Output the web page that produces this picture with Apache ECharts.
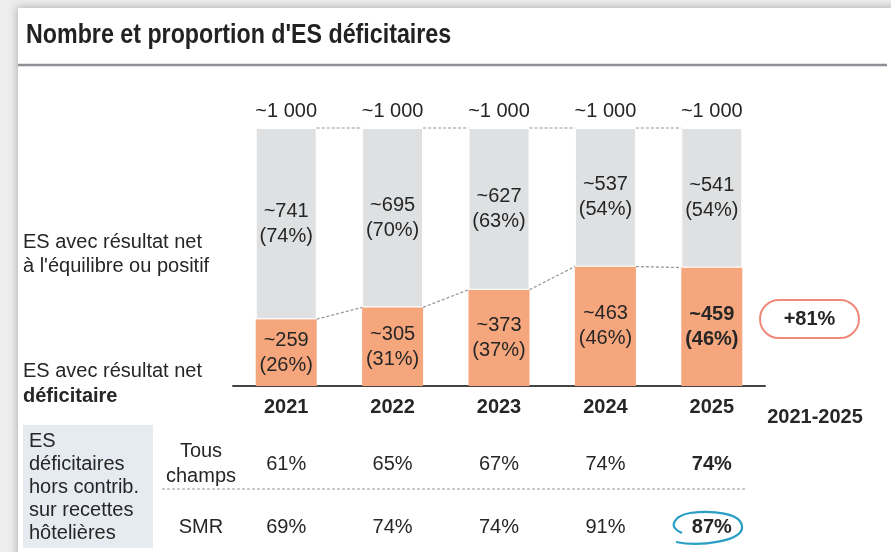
<!DOCTYPE html>
<html><head><meta charset="utf-8">
<script src="https://cdn.jsdelivr.net/npm/echarts@6/dist/echarts.min.js"></script>
<style>html,body{margin:0;padding:0;background:#ededed}#c{width:891px;height:552px}</style>
</head><body><div id="c"></div>
<script>
const years = ['2021','2022','2023','2024','2025'];
const deficit = [259, 305, 373, 463, 459];
const positive = [741, 695, 627, 537, 541];
const pctDeficit = [26, 31, 37, 46, 46];
const pctPositive = [74, 70, 63, 54, 54];
const totals = [1000, 1000, 1000, 1000, 1000];
const totalLabels = ['~1 000','~1 000','~1 000','~1 000','~1 000'];
const rowLabels = ['SMR', 'Tous\nchamps'];
const tousChamps = [61, 65, 67, 74, 74];
const smr = [69, 74, 74, 91, 87];
const growthLabel = '+81%';
const periodLabel = '2021-2025';

const FONT = "'Liberation Sans', Arial, sans-serif";
const TXT = '#262626';
const HALF = 30.5;

function connectors(vals) {
  const out = [];
  for (let i = 0; i < vals.length - 1; i++) out.push([i, vals[i], vals[i + 1]]);
  return out;
}
const cumTop = deficit.map((d, i) => d + positive[i]);

function connRender(color) {
  return function (params, api) {
    const i = api.value(0);
    const p1 = api.coord([i, api.value(1)]);
    const p2 = api.coord([i + 1, api.value(2)]);
    return {
      type: 'line',
      shape: { x1: p1[0] + HALF, y1: p1[1], x2: p2[0] - HALF, y2: p2[1] },
      style: { stroke: color, lineWidth: 1.3, lineDash: [3, 2] }
    };
  };
}

const chart = echarts.init(document.getElementById('c'), null, { renderer: 'canvas' });
chart.setOption({
  backgroundColor: '#ededed',
  animation: false,
  textStyle: { fontFamily: FONT },
  grid: [
    { left: 233, right: 126, top: 128, bottom: 166 },
    { left: 233, right: 126, top: 464, bottom: 25 }
  ],
  xAxis: [
    {
      type: 'category', data: years, gridIndex: 0,
      axisLine: { lineStyle: { color: '#444', width: 2 } },
      axisTick: { show: false },
      axisLabel: { color: TXT, fontSize: 20, fontWeight: 'bold', margin: 11, fontFamily: FONT }
    },
    { type: 'category', data: years, gridIndex: 1, show: false }
  ],
  yAxis: [
    { type: 'value', min: 0, max: 1000, show: false, gridIndex: 0 },
    {
      type: 'category', data: rowLabels, gridIndex: 1, boundaryGap: false,
      axisLine: { show: false }, axisTick: { show: false }, splitLine: { show: false },
      axisLabel: { color: TXT, fontSize: 20, lineHeight: 25, align: 'center', margin: 32, fontFamily: FONT }
    }
  ],
  graphic: [
    { type: 'rect', z: -10, shape: { x: 18, y: 8, width: 880, height: 560 },
      style: { fill: '#fff', shadowBlur: 8, shadowColor: 'rgba(0,0,0,0.25)', shadowOffsetX: -1, shadowOffsetY: -1 } },
    { type: 'text', x: 26, y: 35, scaleX: 0.83, style: { text: "Nombre et proportion d'ES déficitaires", font: "bold 28px " + FONT, fill: '#222', verticalAlign: 'middle' } },
    { type: 'line', shape: { x1: 18, y1: 65, x2: 887, y2: 65 }, style: { stroke: '#8c9094', lineWidth: 2.5 } },
    { type: 'text', x: 23, y: 254, style: { text: "ES avec résultat net\nà l'équilibre ou positif", font: "20px " + FONT, lineHeight: 24, fill: TXT, verticalAlign: 'middle' } },
    { type: 'text', x: 23, y: 384, style: {
        text: "{a|ES avec résultat net}\n{b|déficitaire}",
        rich: { a: { fontSize: 20, fontFamily: FONT, lineHeight: 25, fill: TXT }, b: { fontSize: 20, fontFamily: FONT, fontWeight: 'bold', lineHeight: 25, fill: TXT } },
        verticalAlign: 'middle' } },
    { type: 'rect', shape: { x: 760, y: 300, width: 99, height: 38, r: 19 }, style: { fill: '#fff', stroke: '#f0897a', lineWidth: 2 } },
    { type: 'text', x: 809.5, y: 319, style: { text: growthLabel, font: "bold 20px " + FONT, fill: TXT, align: 'center', verticalAlign: 'middle' } },
    { type: 'text', x: 815, y: 417, style: { text: periodLabel, font: "bold 20px " + FONT, fill: TXT, align: 'center', verticalAlign: 'middle' } },
    { type: 'rect', z: -1, shape: { x: 23, y: 425, width: 130, height: 123 }, style: { fill: '#e5ebf1' } },
    { type: 'text', x: 29, y: 487, style: { text: "ES\ndéficitaires\nhors contrib.\nsur recettes\nhôtelières", font: "20px " + FONT, lineHeight: 23, fill: TXT, verticalAlign: 'middle' } },
    { type: 'line', shape: { x1: 162, y1: 489, x2: 745, y2: 489 }, style: { stroke: '#9a9a9a', lineWidth: 1.2, lineDash: [3, 2] } },
    { type: 'bezierCurve', shape: { x1: 676, y1: 542, cpx1: 700, cpy1: 547, cpx2: 743, cpy2: 541, x2: 742, y2: 527 },
      style: { fill: 'none', stroke: '#2a9fc6', lineWidth: 2.2 } },
    { type: 'bezierCurve', shape: { x1: 742, y1: 527, cpx1: 742, cpy1: 513, cpx2: 712, cpy2: 510, x2: 690, y2: 513 },
      style: { fill: 'none', stroke: '#2a9fc6', lineWidth: 2.2 } },
    { type: 'bezierCurve', shape: { x1: 690, y1: 513, cpx1: 674, cpy1: 516, cpx2: 667, cpy2: 527, x2: 682, y2: 533 },
      style: { fill: 'none', stroke: '#2a9fc6', lineWidth: 2.2 } }
  ],
  series: [
    {
      type: 'bar', name: 'déficitaire', stack: 't', barWidth: 61,
      data: deficit.map((v, i) => i === deficit.length - 1 ? { value: v, label: { fontWeight: 'bold' } } : v),
      xAxisIndex: 0, yAxisIndex: 0,
      itemStyle: { color: '#f5a67c' },
      label: {
        show: true, position: 'inside', color: TXT, fontSize: 20, lineHeight: 25, fontFamily: FONT,
        formatter: p => '~' + deficit[p.dataIndex] + '\n(' + pctDeficit[p.dataIndex] + '%)'
      },
      z: 2
    },
    {
      type: 'bar', name: 'positif', stack: 't', data: positive, barWidth: 61,
      xAxisIndex: 0, yAxisIndex: 0,
      itemStyle: { color: '#dfe0e2', borderColor: '#fff', borderWidth: 1 },
      label: {
        show: true, position: 'inside', color: TXT, fontSize: 20, lineHeight: 25, fontFamily: FONT,
        formatter: p => '~' + positive[p.dataIndex] + '\n(' + pctPositive[p.dataIndex] + '%)'
      },
      z: 2
    },
    {
      type: 'scatter', data: totals.map((v, i) => [i, v]), symbolSize: 0,
      xAxisIndex: 0, yAxisIndex: 0, itemStyle: { opacity: 1 },
      label: { show: true, position: 'top', distance: 7, color: TXT, opacity: 1, fontSize: 20, fontFamily: FONT,
        formatter: p => totalLabels[p.dataIndex] },
      z: 5
    },
    {
      type: 'custom', data: connectors(cumTop), renderItem: connRender('#b8b8b8'),
      xAxisIndex: 0, yAxisIndex: 0, encode: { x: 0, y: 1 }, z: 1, silent: true
    },
    {
      type: 'custom', data: connectors(deficit), renderItem: connRender('#9a9a9a'),
      xAxisIndex: 0, yAxisIndex: 0, encode: { x: 0, y: 1 }, z: 1, silent: true
    },
    {
      type: 'scatter', symbolSize: 0, itemStyle: { opacity: 1 },
      data: tousChamps.map((v, i) => i === tousChamps.length - 1 ? { value: [i, 1], label: { fontWeight: 'bold' } } : [i, 1]),
      xAxisIndex: 1, yAxisIndex: 1,
      label: { show: true, position: 'inside', color: TXT, opacity: 1, fontSize: 20, fontFamily: FONT,
        formatter: p => tousChamps[p.dataIndex] + '%' }
    },
    {
      type: 'scatter', symbolSize: 0, itemStyle: { opacity: 1 },
      data: smr.map((v, i) => i === smr.length - 1 ? { value: [i, 0], label: { fontWeight: 'bold' } } : [i, 0]),
      xAxisIndex: 1, yAxisIndex: 1,
      label: { show: true, position: 'inside', color: TXT, opacity: 1, fontSize: 20, fontFamily: FONT,
        formatter: p => smr[p.dataIndex] + '%' }
    }
  ]
});
</script></body></html>
